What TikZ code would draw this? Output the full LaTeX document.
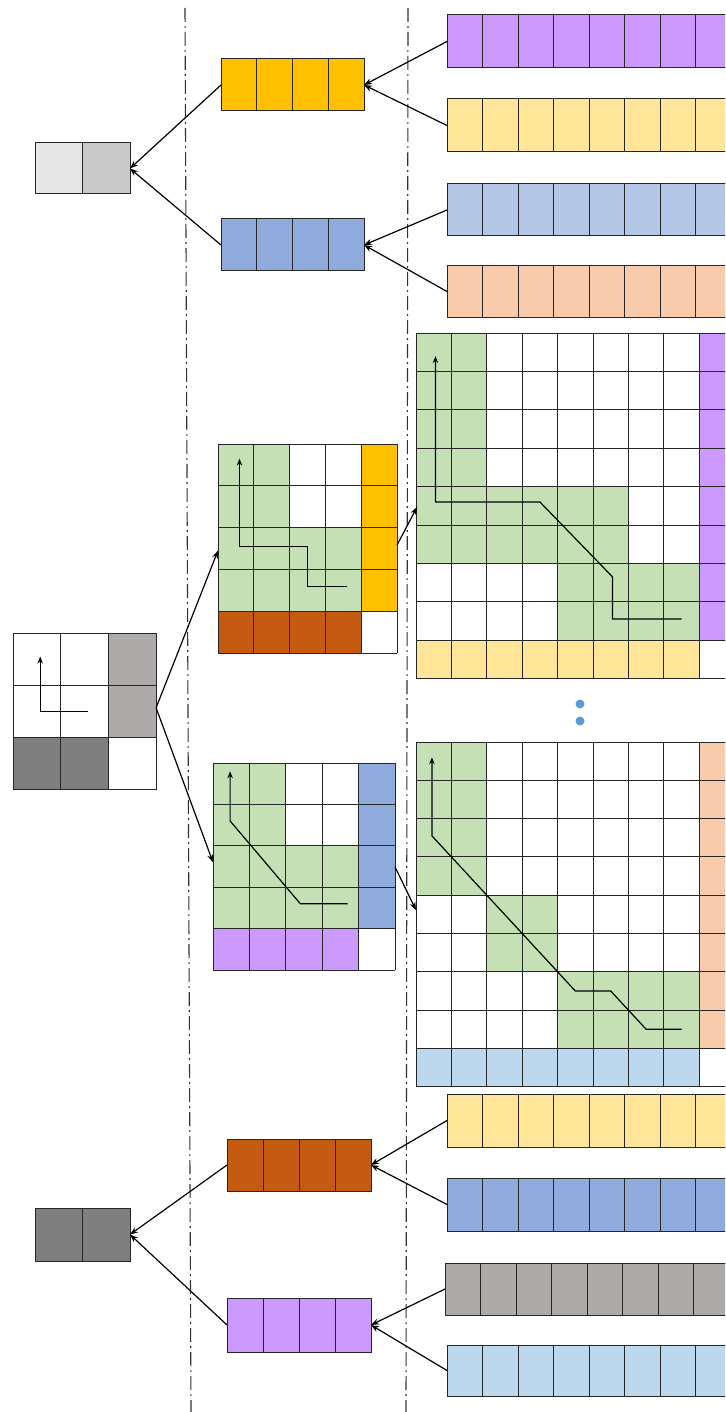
\documentclass[tikz,border=0pt]{standalone}
\usetikzlibrary{arrows.meta}
\definecolor{gold}{HTML}{FFC000}
\definecolor{lgold}{HTML}{FFE699}
\definecolor{purp}{HTML}{CC99FF}
\definecolor{lblue}{HTML}{B4C7E7}
\definecolor{mblue}{HTML}{8FAADC}
\definecolor{sky}{HTML}{BDD7EE}
\definecolor{peach}{HTML}{F8CBAD}
\definecolor{rust}{HTML}{C55A11}
\definecolor{grn}{HTML}{C5E0B4}
\definecolor{gry}{HTML}{AEAAAA}
\definecolor{dgry}{HTML}{7F7F7F}
\definecolor{lgry}{HTML}{E7E6E6}
\definecolor{mgry}{HTML}{C9C9C9}
\definecolor{dotblue}{HTML}{5B9BD5}
\newcommand\cellbar[7]{\node[barbox,fill=#7,minimum width=#4*#5,minimum height=#6] (#1) at (#2,#3) {};
  \foreach \i in {1,...,#4}{\draw[cell] ({#2+\i*#5},#3)--++(0,#6);}}

\begin{document}
\begin{tikzpicture}[x=1pt,y=-1pt,
  cell/.style={draw=black!85,line width=1pt},
  barbox/.style={cell,rectangle,inner sep=0pt,outer sep=0pt,anchor=north west},
  divider/.style={draw=black!80,line width=1.1pt,dash pattern=on 14pt off 4pt on 2pt off 4pt},
  arr/.style={line width=1.2pt,-{Stealth[length=8pt,width=6pt]}},
  trace/.style={line width=1.2pt,-{Stealth[length=7pt,width=5.5pt]}}]
\useasboundingbox (0,0) rectangle (725,1412);
\clip (0,0) rectangle (725,1412);
\draw[divider] (185,8)--(191,1412);\draw[divider] (408,8)--(406,1412);

\cellbar{r1}{447}{15}{9}{35.5}{53}{purp}
\cellbar{r2}{447}{99}{9}{35.5}{53}{lgold}
\cellbar{r3}{447}{184}{9}{35.5}{52}{lblue}
\cellbar{r4}{447}{266}{9}{35.5}{51}{peach}
\cellbar{g1}{221}{59}{4}{35.75}{52}{gold}
\cellbar{b1}{221}{219}{4}{35.75}{52}{mblue}
\cellbar{t0}{35}{143}{2}{47.5}{51}{lgry}
\draw[cell,fill=mgry] (82.5,143) rectangle (130,194);
\draw[arr] (r1.west)--(g1.east);\draw[arr] (r2.west)--(g1.east);
\draw[arr] (r3.west)--(b1.east);\draw[arr] (r4.west)--(b1.east);
\draw[arr] (g1.west)--(t0.east);\draw[arr] (b1.west)--(t0.east);

\begin{scope}[shift={(13,633)},x=47.7pt,y=-52.3pt]
\fill[gry] (2,0) rectangle (3,2);\fill[dgry] (0,2) rectangle (2,3);
\foreach \i in {0,...,3}{\draw[cell] (\i,0)--(\i,3);\draw[cell] (0,\i)--(3,\i);}
\draw[trace] (1.57,1.5)--(0.57,1.5)--(0.57,0.45);
\coordinate (qE) at (3,1.43);
\end{scope}

\begin{scope}[shift={(218,444)},x=35.8pt,y=-41.8pt]
\fill[grn] (0,0) rectangle (2,2) (0,2) rectangle (4,4);\fill[gold] (4,0) rectangle (5,4);\fill[rust] (0,4) rectangle (4,5);
\foreach \i in {0,...,5}{\draw[cell] (\i,0)--(\i,5);\draw[cell] (0,\i)--(5,\i);}
\draw[trace] (3.6,3.4)--(2.5,3.4)--(2.5,2.45)--(0.6,2.45)--(0.6,0.35);
\coordinate (uW) at (0,2.55);\coordinate (uE) at (5,2.42);
\end{scope}

\begin{scope}[shift={(213,763)},x=36.4pt,y=-41.4pt]
\fill[grn] (0,0) rectangle (2,2) (0,2) rectangle (4,4);\fill[mblue] (4,0) rectangle (5,4);\fill[purp] (0,4) rectangle (4,5);
\foreach \i in {0,...,5}{\draw[cell] (\i,0)--(\i,5);\draw[cell] (0,\i)--(5,\i);}
\draw[trace] (3.7,3.4)--(2.4,3.4)--(0.47,1.4)--(0.47,0.2);
\coordinate (lW) at (0,2.4);\coordinate (lE) at (5,2.51);
\end{scope}

\begin{scope}[shift={(416,333)},x=35.4pt,y=-38.4pt]
\fill[grn] (0,0) rectangle (2,4) (0,4) rectangle (6,6) (4,6) rectangle (8,8);
\fill[lgold] (0,8) rectangle (8,9);\fill[purp] (8,0) rectangle (9,8);
\foreach \i in {0,...,9}{\draw[cell] (\i,0)--(\i,9);\draw[cell] (0,\i)--(9,\i);}
\draw[trace] (7.5,7.45)--(5.55,7.45)--(5.55,6.35)--(3.5,4.4)--(0.55,4.4)--(0.55,0.6);
\coordinate (aW) at (0.03,4.53);
\end{scope}

\begin{scope}[shift={(416,742)},x=35.4pt,y=-38.3pt]
\fill[grn] (0,0) rectangle (2,4) (2,4) rectangle (4,6) (4,6) rectangle (8,8);
\fill[sky] (0,8) rectangle (8,9);\fill[peach] (8,0) rectangle (9,8);
\foreach \i in {0,...,9}{\draw[cell] (\i,0)--(\i,9);\draw[cell] (0,\i)--(9,\i);}
\draw[trace] (7.5,7.5)--(6.5,7.5)--(5.5,6.5)--(4.5,6.5)--(0.45,2.45)--(0.45,0.4);
\coordinate (bW) at (0,4.39);
\end{scope}

\draw[arr] (qE)--(uW);\draw[arr] (qE)--(lW);
\draw[arr] (uE)--(aW);\draw[arr] (lE)--(bW);
\fill[dotblue] (580,704) circle[radius=4.5pt] (580,721) circle[radius=4.5pt];

\cellbar{y1}{447}{1094}{9}{35.5}{53}{lgold}
\cellbar{m1}{447}{1178}{9}{35.5}{53}{mblue}
\cellbar{a1}{445}{1263}{9}{35.5}{52}{gry}
\cellbar{s1}{447}{1345}{9}{35.5}{51}{sky}
\cellbar{o1}{227}{1139}{4}{36}{52}{rust}
\cellbar{v1}{227}{1298}{4}{36}{54}{purp}
\cellbar{d0}{35}{1208}{2}{47.5}{53}{dgry}
\draw[arr] (y1.west)--(o1.east);\draw[arr] (m1.west)--(o1.east);
\draw[arr] (a1.west)--(v1.east);\draw[arr] (s1.west)--(v1.east);
\draw[arr] (o1.west)--(d0.east);\draw[arr] (v1.west)--(d0.east);
\end{tikzpicture}
\end{document}
